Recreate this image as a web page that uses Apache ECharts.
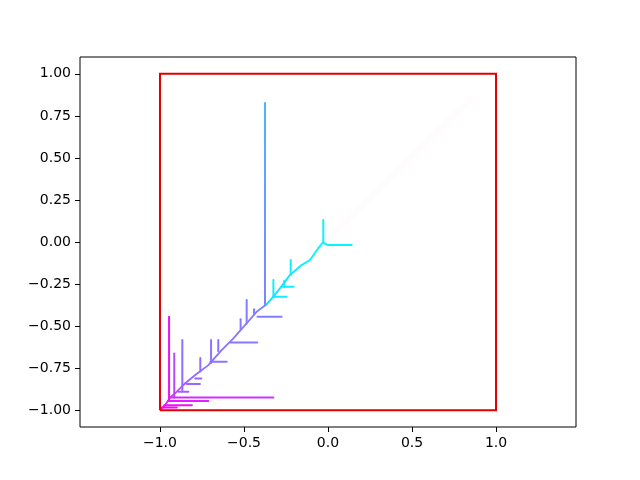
<!DOCTYPE html>
<html>
<head>
<meta charset="utf-8">
<script src="https://cdn.jsdelivr.net/npm/echarts@6/dist/echarts.min.js"></script>
<style>
  html, body { margin: 0; background: #fff; }
  #chart { width: 640px; height: 480px; }
</style>
</head>
<body>
<div id="chart"></div>
<script>
// tick labels
const xTicks = [-1, -0.5, 0, 0.5, 1]
const yTicks = [-1, -0.75, -0.5, -0.25, 0, 0.25, 0.5, 0.75, 1]

// red bounding square
const square = [[-1, -1], [1, -1], [1, 1], [-1, 1], [-1, -1]]

// main spine, pieces with colormap value at start and end
const spineUpper = [[-0.028, 0.0], [-0.06, -0.04], [-0.107, -0.107], [-0.157, -0.137], [-0.226, -0.196], [-0.286, -0.276], [-0.325, -0.325], [-0.365, -0.37]]
const spineLower = [[-0.365, -0.37], [-0.425, -0.415], [-0.494, -0.494], [-0.563, -0.573], [-0.633, -0.643], [-0.712, -0.732], [-0.792, -0.792], [-0.851, -0.841]]
const spineTail = [[-0.851, -0.841], [-0.901, -0.891], [-0.94, -0.925], [-0.97, -0.97], [-0.99, -0.99]]
const spineColor = [[0.03, 0.14], [0.5, 0.6], [0.6, 0.95]]

// tall stem and cyan cross
const stem = [[-0.375, 0.826], [-0.375, -0.37]]
const stemColor = [0.28, 0.5]
const crossV = [[-0.028, 0.131], [-0.028, -0.005]]
const crossH = [[-0.028, -0.005], [0.0, -0.018], [0.141, -0.018]]

// horizontal branches: y, x start, x end, colour start, colour end
const hBranches = [
  [-0.325, -0.325, -0.246, 0.08, 0.08],
  [-0.266, -0.27, -0.205, 0.06, 0.06],
  [-0.444, -0.42, -0.276, 0.52, 0.5],
  [-0.597, -0.58, -0.421, 0.55, 0.5],
  [-0.712, -0.70, -0.603, 0.56, 0.52],
  [-0.812, -0.79, -0.754, 0.6, 0.6],
  [-0.845, -0.84, -0.762, 0.6, 0.6],
  [-0.891, -0.89, -0.831, 0.62, 0.6],
  [-0.925, -0.94, -0.325, 0.85, 0.78],
  [-0.945, -0.95, -0.712, 0.9, 0.85],
  [-0.97, -0.975, -0.81, 0.95, 0.95],
  [-0.984, -0.99, -0.9, 1, 1],
]

// vertical branches: x, y top, y bottom, colour top, colour bottom
const vBranches = [
  [-0.222, -0.107, -0.196, 0.06, 0.06],
  [-0.325, -0.226, -0.325, 0.08, 0.08],
  [-0.26, -0.23, -0.266, 0.07, 0.07],
  [-0.484, -0.345, -0.484, 0.5, 0.52],
  [-0.44, -0.40, -0.43, 0.5, 0.5],
  [-0.52, -0.46, -0.52, 0.52, 0.52],
  [-0.696, -0.583, -0.72, 0.55, 0.56],
  [-0.653, -0.583, -0.65, 0.55, 0.55],
  [-0.76, -0.69, -0.77, 0.57, 0.57],
  [-0.867, -0.583, -0.881, 0.55, 0.6],
  [-0.915, -0.663, -0.925, 0.7, 0.75],
  [-0.946, -0.444, -0.94, 0.95, 0.95],
]

// faint trace toward the upper right
const faint = [[0.0, 0.02], [0.85, 0.85]]

const cool = (t) => `rgb(${Math.round(255 * t)},${Math.round(255 * (1 - t))},255)`

// gradient from first point to last point in the path's bounding box
const gradient = (pts, t0, t1) => {
  const xs = pts.map((p) => p[0])
  const ys = pts.map((p) => p[1])
  const minX = Math.min(...xs), maxX = Math.max(...xs)
  const minY = Math.min(...ys), maxY = Math.max(...ys)
  const u = (x) => (maxX === minX ? 0 : (x - minX) / (maxX - minX))
  const v = (y) => (maxY === minY ? 0 : (maxY - y) / (maxY - minY))
  const a = pts[0], b = pts[pts.length - 1]
  return new echarts.graphic.LinearGradient(u(a[0]), v(a[1]), u(b[0]), v(b[1]), [
    { offset: 0, color: cool(t0) },
    { offset: 1, color: cool(t1) },
  ])
}

const lineSeries = (pts, color, width, extra) => ({
  type: "line",
  data: pts,
  symbol: "none",
  silent: true,
  animation: false,
  lineStyle: Object.assign({ color, width, cap: "round", join: "round" }, extra || {}),
})

const series = []
series.push(lineSeries(faint, "rgba(245,205,190,0.05)", 7))
series.push(lineSeries(spineLower, gradient(spineLower, spineColor[1][0], spineColor[1][1]), 1.8))
series.push(lineSeries(spineTail, gradient(spineTail, spineColor[2][0], spineColor[2][1]), 1.8))
vBranches.forEach(([x, y0, y1, t0, t1]) => {
  const pts = [[x, y0], [x, y1]]
  series.push(lineSeries(pts, gradient(pts, t0, t1), 2))
})
hBranches.forEach(([y, x0, x1, t0, t1]) => {
  const pts = [[x0, y], [x1, y]]
  series.push(lineSeries(pts, gradient(pts, t0, t1), 2))
})
series.push(lineSeries(stem, gradient(stem, stemColor[0], stemColor[1]), 2))
series.push(lineSeries(spineUpper, gradient(spineUpper, spineColor[0][0], spineColor[0][1]), 2))
series.push(lineSeries(crossV, cool(0.05), 2))
series.push(lineSeries(crossH, cool(0.05), 2))
series.push(lineSeries(square, "#e00000", 2, { cap: "butt", join: "miter" }))

const fmt = (digits) => (v) => Number(v).toFixed(digits).replace("-", "\u2212")

const axisCommon = {
  type: "value",
  splitLine: { show: false },
  axisLine: { show: false, onZero: false },
  axisTick: { show: true, length: 5, lineStyle: { color: "#000", width: 1 } },
  axisLabel: { color: "#000", fontSize: 14, fontFamily: "DejaVu Sans", margin: 9 },
}

const chart = echarts.init(document.getElementById("chart"), null, { renderer: "canvas" })
chart.setOption({
  backgroundColor: "#fff",
  animation: false,
  grid: { left: 80, right: 64, top: 57, bottom: 53, show: true, borderColor: "#000", borderWidth: 1, backgroundColor: "transparent" },
  xAxis: Object.assign({}, axisCommon, {
    min: -1.476,
    max: 1.476,
    axisTick: Object.assign({}, axisCommon.axisTick, { customValues: xTicks }),
    axisLabel: Object.assign({}, axisCommon.axisLabel, { customValues: xTicks, formatter: fmt(1) }),
  }),
  yAxis: Object.assign({}, axisCommon, {
    min: -1.1,
    max: 1.1,
    axisTick: Object.assign({}, axisCommon.axisTick, { customValues: yTicks }),
    axisLabel: Object.assign({}, axisCommon.axisLabel, { customValues: yTicks, formatter: fmt(2) }),
  }),
  series,
})
</script>
</body>
</html>
